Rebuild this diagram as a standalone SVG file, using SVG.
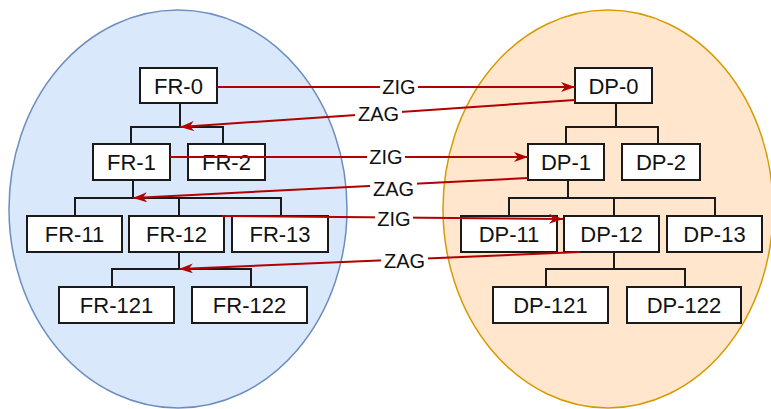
<svg xmlns="http://www.w3.org/2000/svg" width="771" height="409" viewBox="0 0 771 409">
  <defs>
    <style>
      .box { fill: #ffffff; stroke: #1a1a1a; stroke-width: 2; }
      .tree { fill: none; stroke: #1a1a1a; stroke-width: 2; }
      .lbl { font-family: "Liberation Sans", Arial, sans-serif; font-size: 22px; fill: #111111; text-anchor: middle; }
      .edge { fill: none; stroke: #b20000; stroke-width: 2; }
      .etxt { font-family: "Liberation Sans", Arial, sans-serif; font-size: 20px; fill: #111111; text-anchor: middle; }
      .ebg { fill: #ffffff; }
    </style>
    <marker id="arrow" markerUnits="userSpaceOnUse" markerWidth="16" markerHeight="12" refX="14" refY="5" orient="auto">
      <path d="M0,0 L14,5 L0,10 L4,5 z" fill="#b20000"/>
    </marker>
  </defs>

  <!-- domains -->
  <ellipse id="fr-domain" cx="178" cy="209" rx="169" ry="199" fill="#dae8fc" stroke="#6c8ebf" stroke-width="1.5"/>
  <ellipse id="dp-domain" cx="608" cy="209" rx="165" ry="199" fill="#ffe6cc" stroke="#d79b00" stroke-width="1.5"/>

  <!-- hierarchy lines -->
  <g id="tree-lines" class="tree">
    <path d="M180,103 V127 M131,144 V127 H223 V144"/>
    <path d="M133,180 V198 M75,216 V198 H281 V216 M179,198 V216"/>
    <path d="M179,252 V269 M112,287 V269 H251 V287"/>
    <path d="M616,103 V127 M566,144 V127 H658 V144"/>
    <path d="M568,180 V198 M509,216 V198 H715 V216 M614,198 V216"/>
    <path d="M614,252 V269 M546,287 V269 H685 V287"/>
  </g>

  <!-- FR tree -->
  <g id="FR-0"><rect class="box" x="140" y="68" width="77" height="35"/><text class="lbl" x="178.5" y="93.5">FR-0</text></g>
  <g id="FR-1"><rect class="box" x="93" y="144" width="77" height="36"/><text class="lbl" x="131.5" y="170">FR-1</text></g>
  <g id="FR-2"><rect class="box" x="188" y="144" width="77" height="36"/><text class="lbl" x="226.5" y="170">FR-2</text></g>
  <g id="FR-11"><rect class="box" x="27" y="216" width="95" height="36"/><text class="lbl" x="74.5" y="242">FR-11</text></g>
  <g id="FR-12"><rect class="box" x="129" y="216" width="95" height="36"/><text class="lbl" x="176.5" y="242">FR-12</text></g>
  <g id="FR-13"><rect class="box" x="232" y="216" width="96" height="36"/><text class="lbl" x="280" y="242">FR-13</text></g>
  <g id="FR-121"><rect class="box" x="59" y="287" width="115" height="36"/><text class="lbl" x="116.5" y="313">FR-121</text></g>
  <g id="FR-122"><rect class="box" x="192" y="287" width="115" height="36"/><text class="lbl" x="249.5" y="313">FR-122</text></g>

  <!-- DP tree -->
  <g id="DP-0"><rect class="box" x="575" y="68" width="77" height="35"/><text class="lbl" x="613.5" y="93.5">DP-0</text></g>
  <g id="DP-1"><rect class="box" x="528" y="144" width="76" height="36"/><text class="lbl" x="566" y="170">DP-1</text></g>
  <g id="DP-2"><rect class="box" x="622" y="144" width="78" height="36"/><text class="lbl" x="661" y="170">DP-2</text></g>
  <g id="DP-11"><rect class="box" x="461" y="216" width="96" height="36"/><text class="lbl" x="509" y="242">DP-11</text></g>
  <g id="DP-12"><rect class="box" x="564" y="216" width="95" height="36"/><text class="lbl" x="611.5" y="242">DP-12</text></g>
  <g id="DP-13"><rect class="box" x="667" y="216" width="95" height="36"/><text class="lbl" x="714.5" y="242">DP-13</text></g>
  <g id="DP-121"><rect class="box" x="493" y="287" width="115" height="36"/><text class="lbl" x="550.5" y="313">DP-121</text></g>
  <g id="DP-122"><rect class="box" x="627" y="287" width="114" height="36"/><text class="lbl" x="684" y="313">DP-122</text></g>

  <!-- zig / zag mappings -->
  <g id="connectors">
    <path class="edge" d="M217,87 H575" marker-end="url(#arrow)"/>
    <path class="edge" d="M575,100 L180,127" marker-end="url(#arrow)"/>
    <path class="edge" d="M170,157 H528" marker-end="url(#arrow)"/>
    <path class="edge" d="M528,178 L133,198" marker-end="url(#arrow)"/>
    <path class="edge" d="M222,216 L563,219" marker-end="url(#arrow)"/>
    <path class="edge" d="M580,252 L179,269" marker-end="url(#arrow)"/>

    <rect class="ebg" x="380" y="77" width="38" height="20"/>
    <text class="etxt" x="399" y="94">ZIG</text>
    <rect class="ebg" x="355" y="104" width="47" height="20"/>
    <text class="etxt" x="378.5" y="120.5">ZAG</text>
    <rect class="ebg" x="367" y="147" width="38" height="20"/>
    <text class="etxt" x="386" y="164">ZIG</text>
    <rect class="ebg" x="370" y="179" width="47" height="20"/>
    <text class="etxt" x="393.5" y="196">ZAG</text>
    <rect class="ebg" x="375" y="209" width="38" height="20"/>
    <text class="etxt" x="394" y="226">ZIG</text>
    <rect class="ebg" x="381" y="251" width="47" height="20"/>
    <text class="etxt" x="404.5" y="268">ZAG</text>
  </g>
</svg>
